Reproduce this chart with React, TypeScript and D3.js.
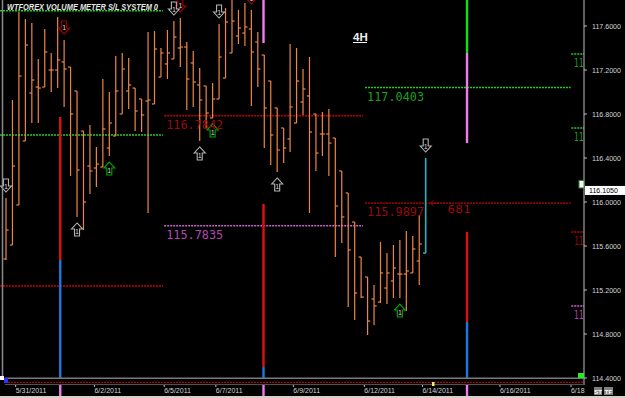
import React from 'react';
import * as d3 from 'd3';

const W = 625;
const H = 398;

// OHLC 4H bars (price)
const openP = [115.482,115.609,115.973,116.555,116.991,117.045,117.045,117.200,117.200,117.273,117.227,117.009,116.645,116.327,116.309,116.318,116.491,116.600,116.800,117.009,117.036,116.936,116.918,116.891,117.136,117.255,117.300,117.400,117.409,117.264,117.064,117.055,116.764,116.936,117.127,117.355,117.509,117.536,117.573,117.455,117.336,117.100,116.855,116.673,116.573,116.718,116.909,116.964,116.800,116.618,116.618,116.582,116.282,116.082,115.818,115.500,115.318,115.118,115.091,115.218,115.282,115.345,115.345,115.355,115.464,115.536];
const highP = [116.036,116.927,117.727,117.664,117.627,117.300,117.573,117.355,117.682,117.473,117.227,117.009,116.645,116.700,116.500,117.118,117.000,117.327,117.355,117.309,117.036,116.936,117.545,117.555,117.400,117.564,117.645,117.673,117.455,117.373,117.218,117.055,117.082,117.618,117.764,117.882,117.745,117.809,117.745,117.545,117.336,117.100,116.855,116.673,117.436,117.400,117.209,117.318,116.800,116.818,116.845,116.582,116.282,116.082,115.818,115.500,115.318,115.245,115.636,115.536,115.609,115.655,115.736,115.691,115.882,116.400];
const lowP = [115.473,115.609,115.973,116.555,116.718,116.718,117.045,117.000,117.036,116.864,116.236,115.864,115.745,116.073,116.136,116.318,116.418,116.600,116.800,116.845,116.645,116.636,115.900,116.891,117.136,117.118,117.300,117.227,116.836,116.864,116.555,116.673,116.764,116.936,117.127,117.355,117.436,117.418,116.873,117.045,116.491,116.336,116.273,116.355,116.455,116.718,116.791,115.900,116.282,116.418,116.236,115.500,115.627,115.045,114.927,115.127,114.791,114.882,115.082,115.073,115.127,115.127,115.009,115.355,115.245,115.536];
const closeP = [115.745,116.327,117.145,117.427,117.109,117.036,117.364,117.200,117.291,117.209,116.800,116.291,116.000,116.282,116.345,116.664,116.718,117.009,117.209,117.064,116.827,116.791,116.927,117.391,117.355,117.355,117.500,117.409,117.118,117.091,116.927,116.809,116.936,117.318,117.636,117.645,117.582,117.591,117.364,117.209,116.855,116.609,116.473,116.491,116.864,117.100,117.027,116.636,116.445,116.618,116.536,115.964,115.864,115.564,115.173,115.136,114.918,115.055,115.355,115.355,115.400,115.345,115.373,115.573,115.618,116.105];

const currentPrice = 116.105;
const currentLabel = '116.1050';

const yTicks = [114.4, 114.8, 115.2, 115.6, 116.0, 116.4, 116.8, 117.2, 117.6];
const dateTickPos = [1.5, 13.7, 24.5, 32.5, 44.5, 55.5, 64.5, 76.5, 87.5];
const dateTickLabels = ['5/31/2011', '6/2/2011', '6/5/2011', '6/7/2011', '6/9/2011', '6/12/2011', '6/14/2011', '6/16/2011', '6/18'];

// signal arrows
const arrowIdx = [0, 9, 11, 16, 27, 26, 30, 32, 33, 38, 42, 61, 65];
const arrowDir = ['down', 'down', 'up', 'up', 'down', 'down', 'up', 'up', 'down', 'down', 'up', 'up', 'down'];
const arrowKind = ['gray', 'red', 'gray', 'green', 'red', 'gray', 'gray', 'green', 'gray', 'red', 'gray', 'green', 'gray'];

// S/L levels (weekly segments)
const levelStart = [-2, -2, -2, 24.5, 24.5, 55.6, 55.6, 87.55, 87.55, 87.55, 87.55];
const levelEnd = [24.3, 24.3, 24.3, 55.3, 55.3, 87.45, 87.45, 89.6, 89.6, 89.6, 89.6];
const levelPrice = [117.739, 116.609, 115.236, 116.7842, 115.7835, 117.0403, 115.9897, 117.345, 116.673, 115.727, 115.055];
const levelKind = ['green', 'green', 'red', 'red', 'magenta', 'green', 'red', 'green', 'green', 'red', 'magenta'];
const levelLabel = ['', '', '', '116.7842', '115.7835', '117.0403', '115.9897', '11', '11', '11', '11'];
const pipsLabel = '681';

// volume meter columns
const volPos = [8.4, 39.88, 71.4];
const volLine = [0, 0, 1, 1, 1, 2, 2, 2, 2];
const volFrom = [116.773, 115.473, 118.2, 115.982, 114.5, 118.2, 117.355, 115.727, 114.909];
const volTo = [115.473, 114.4, 117.445, 114.5, 114.4, 117.355, 116.536, 114.909, 114.4];
const volKind = ['red', 'blue', 'pink', 'red', 'blue', 'green', 'pink', 'red', 'blue'];

const lineColors: Record<string, string> = { green: '#1fcf1f', red: '#c80000', magenta: '#d060d0' };
const labelColors: Record<string, string> = { green: '#1f9f1f', red: '#9a0a0a', magenta: '#b048b0' };
const volColors: Record<string, string> = { red: '#e01010', blue: '#1a78e0', pink: '#f07af0', green: '#14e014' };
const arrowColors: Record<string, string> = { gray: '#b4b4b4', red: '#a80000', green: '#00a800' };

const BAR = '#ee8548';
const LCD = '"DejaVu Sans Mono", monospace';
const SANS = '"Liberation Sans", Arial, sans-serif';

export default function App() {
  const axisX = 584;
  const plotBottom = 378;
  const x = d3.scaleLinear().domain([0, 65]).range([6, 425.7]);
  const y = d3.scaleLinear().domain([114.4, 117.6]).range([378, 26]);
  const n = openP.length;

  const arrowPath = (cx: number, top: number, dir: string) => {
    if (dir === 'down') {
      return `M${cx - 2.5},${top} L${cx + 2.5},${top} L${cx + 2.5},${top + 7} L${cx + 5.5},${top + 7} L${cx},${top + 13} L${cx - 5.5},${top + 7} L${cx - 2.5},${top + 7} Z`;
    }
    return `M${cx},${top} L${cx + 5.5},${top + 6} L${cx + 2.5},${top + 6} L${cx + 2.5},${top + 13} L${cx - 2.5},${top + 13} L${cx - 2.5},${top + 6} L${cx - 5.5},${top + 6} Z`;
  };

  return (
    <svg width={W} height={H} style={{ position: 'absolute', left: 0, top: 0, background: '#000' }}>
      <defs>
        <clipPath id="plot">
          <rect x={0} y={0} width={axisX} height={plotBottom} />
        </clipPath>
      </defs>
      <rect x={0} y={0} width={W} height={H} fill="#000" />

      <g clipPath="url(#plot)">
        {/* level lines */}
        {levelPrice.map((p, k) => (
          <line key={'lv' + k} x1={Math.max(0, x(levelStart[k]))} x2={x(levelEnd[k])} y1={y(p)} y2={y(p)}
            stroke={lineColors[levelKind[k]]} strokeWidth={1.4} strokeDasharray="2,1" />
        ))}
        {/* volume meter columns */}
        {volLine.map((li, k) => (
          <line key={'vm' + k} x1={x(volPos[li])} x2={x(volPos[li])} y1={y(volFrom[k])} y2={y(volTo[k])}
            stroke={volColors[volKind[k]]} strokeWidth={2.4} />
        ))}

        {/* OHLC bars */}
        {d3.range(n).map((i) => {
          const cx = x(i);
          const last = i === n - 1;
          const col = last ? '#1fb4c4' : BAR;
          return (
            <g key={'b' + i} stroke={col} strokeWidth={last ? 1.6 : 1.2}>
              <line x1={cx} x2={cx} y1={y(highP[i])} y2={y(lowP[i])} />
              <line x1={cx - 2.6} x2={cx} y1={y(openP[i])} y2={y(openP[i])} />
              {!last && <line x1={cx} x2={cx + 2.6} y1={y(closeP[i])} y2={y(closeP[i])} />}
            </g>
          );
        })}

        {/* arrows */}
        {arrowIdx.map((i, k) => {
          const cx = x(i);
          const dir = arrowDir[k];
          const top = dir === 'down' ? y(highP[i]) - 6 - 13 : y(lowP[i]) + 6;
          const c = arrowColors[arrowKind[k]];
          return (
            <g key={'a' + k}>
              <path d={arrowPath(cx, top, dir)} fill="#000" stroke={c} strokeWidth={1.1} />
              <text x={cx} y={top + (dir === 'down' ? 9.5 : 11)} fill="#d8d8d8" fontFamily={SANS} fontSize={7}
                textAnchor="middle">1</text>
            </g>
          );
        })}
      </g>

      {/* level labels */}
      {levelPrice.map((p, k) => levelLabel[k] ? (
        <text key={'ll' + k} x={k >= 7 ? 574 : x(levelStart[k]) + 2} y={y(p) + 13} fill={labelColors[levelKind[k]]}
          fontFamily={LCD} fontSize={12} textLength={k >= 7 ? 9.5 : 57} lengthAdjust="spacingAndGlyphs">{levelLabel[k]}</text>
      ) : null)}
      <path d={`M${x(65.6) + 9},${y(levelPrice[6])} L${x(65.6) + 1},${y(levelPrice[6])} M${x(65.6) + 4},${y(levelPrice[6]) - 3} L${x(65.6) + 1},${y(levelPrice[6])} L${x(65.6) + 4},${y(levelPrice[6]) + 3}`}
        stroke={labelColors.red} strokeWidth={1} fill="none" />
      <text x={x(65.6) + 18} y={y(levelPrice[6]) + 10} fill={labelColors.red} fontFamily={LCD} fontSize={11}
        textLength={23} lengthAdjust="spacingAndGlyphs">{pipsLabel}</text>

      {/* title */}
      <text x={7} y={9.5} fill="#e6e6e6" fontFamily={SANS} fontSize={8.6} fontWeight="bold" fontStyle="italic"
        textLength={151} lengthAdjust="spacingAndGlyphs">WTFOREX VOLUME METER  S/L SYSTEM 0</text>

      {/* timeframe */}
      <text x={353} y={41} fill="#f0f0f0" fontFamily={SANS} fontSize={11.5} fontWeight="bold">4H</text>
      <line x1={353} x2={367} y1={42.5} y2={42.5} stroke="#f0f0f0" strokeWidth={1} />

      {/* left border */}
      <line x1={2.5} x2={2.5} y1={0} y2={plotBottom} stroke="#8a8a8a" strokeWidth={1.5} />

      {/* y axis */}
      <line x1={axisX} x2={axisX} y1={0} y2={plotBottom + 7} stroke="#c0c0c0" strokeWidth={1} />
      {yTicks.map((t) => (
        <g key={'yt' + t}>
          <line x1={axisX} x2={axisX + 3} y1={y(t)} y2={y(t)} stroke="#c0c0c0" />
          <text x={592} y={y(t) + 2.6} fill="#d4d4d4" fontFamily={SANS} fontSize={7.5} textLength={29}
            lengthAdjust="spacingAndGlyphs">{d3.format('.4f')(t)}</text>
        </g>
      ))}
      <rect x={585} y={y(currentPrice) - 4.5} width={40} height={9} fill="#ffffff" />
      <text x={589} y={y(currentPrice) + 2.7} fill="#000" fontFamily={SANS} fontSize={7.5} textLength={29}
        lengthAdjust="spacingAndGlyphs">{currentLabel}</text>
      <rect x={579} y={y(currentPrice) - 10} width={5} height={7.5} fill="#ffffff" stroke="#2a8a2a" strokeWidth={1} />

      {/* bottom time axis band */}
      <line x1={5} x2={axisX} y1={378.3} y2={378.3} stroke="#7a7a7a" strokeWidth={1.5} />
      <line x1={5} x2={axisX} y1={382.3} y2={382.3} stroke="#b00000" strokeWidth={1.2} strokeDasharray="2,1" />
      <line x1={5} x2={axisX} y1={384.6} y2={384.6} stroke="#5a5a5a" strokeWidth={1} />
      {volPos.map((p, k) => (
        <line key={'vp' + k} x1={x(p)} x2={x(p)} y1={385} y2={396} stroke={volColors.pink} strokeWidth={2.4} />
      ))}
      {dateTickPos.map((p, k) => (
        <g key={'xt' + k}>
          <line x1={x(p)} x2={x(p)} y1={385} y2={387} stroke="#c0c0c0" />
          <text x={x(p)} y={392.7} fill="#d4d4d4" fontFamily={SANS} fontSize={7}>{dateTickLabels[k]}</text>
        </g>
      ))}
      <rect x={0} y={376} width={4} height={4} fill="#ffffff" />
      <rect x={4} y={378} width={4} height={5} fill="#3030ff" />
      <rect x={432} y={382} width={2.5} height={4} fill="#eeee66" />
      <rect x={578} y={373} width={6} height={5} fill="#22ee22" />
      <rect x={594} y={387} width={8} height={8} fill="#808080" />
      <text x={598} y={393.5} fill="#fff" fontFamily={SANS} fontSize={6} fontWeight="bold" textAnchor="middle">ST</text>
      <rect x={604} y={387} width={9} height={8} fill="#808080" />
      <text x={608.5} y={393.5} fill="#fff" fontFamily={SANS} fontSize={6} fontWeight="bold" textAnchor="middle">TF</text>
      <rect x={0} y={396} width={W} height={2} fill="#d4d0c8" />
    </svg>
  );
}
